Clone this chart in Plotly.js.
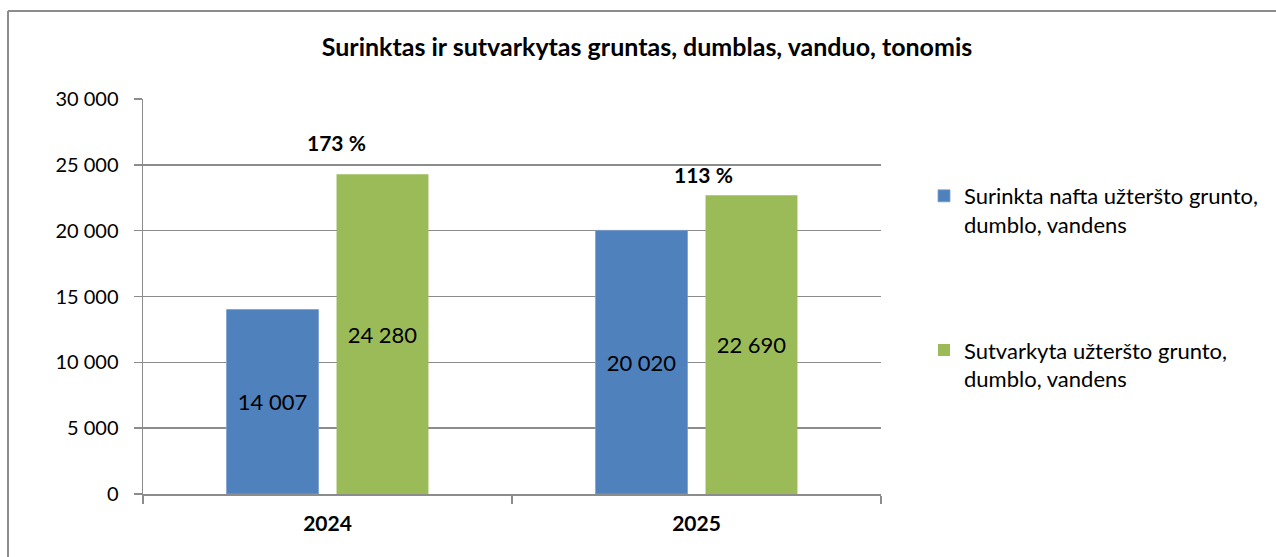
<!DOCTYPE html>
<html>
<head>
<meta charset="utf-8">
<script src="https://cdn.plot.ly/plotly-3.0.1.min.js"></script>
<style>
  html, body { margin: 0; padding: 0; background: #ffffff; }
  #chart { width: 1276px; height: 557px; }
</style>
</head>
<body>
<div id="chart"></div>
<script>
// ---- Data ----
const categories = ['2024', '2025'];
const seriesNames = [
  'Surinkta nafta užteršto grunto,<br>dumblo, vandens',
  'Sutvarkyta užteršto grunto,<br>dumblo, vandens'
];
const collected = [14007, 20020];
const treated = [24280, 22690];
const percentLabels = ['173 %', '113 %'];
const yTicks = [0, 5000, 10000, 15000, 20000, 25000, 30000];

// ---- Styles ----
const FONT = 'Lato, "Open Sans", sans-serif';
const BLUE = '#4F81BD';
const GREEN = '#9BBB59';
const GRID = '#8C8C8C';

// plot area in pixels
const L = 143, R = 881, T = 99, B = 494, W = 1276, H = 557;
const pw = R - L, ph = B - T;
const px = x => (x - L) / pw;
const py = y => (B - y) / ph;

const traces = [
  {
    type: 'bar', x: categories, y: collected, name: seriesNames[0],
    legendgroup: 'a',
    marker: { color: BLUE, line: { color: '#7A9ED0', width: 0.8 } },
    texttemplate: '%{y:,}', textposition: 'inside', insidetextanchor: 'middle',
    textfont: { family: FONT, size: 22, color: '#000000' },
    hoverinfo: 'skip'
  },
  {
    type: 'bar', x: categories, y: treated, name: seriesNames[1],
    legendgroup: 'b',
    marker: { color: GREEN },
    texttemplate: '%{y:,}', textposition: 'inside', insidetextanchor: 'middle',
    textfont: { family: FONT, size: 22, color: '#000000' },
    hoverinfo: 'skip'
  }
];

const pctShiftY = [17, 6];
const pctShiftX = [9, 7];
const annotations = categories.map((c, i) => ({
  x: i, y: treated[i], xref: 'x', yref: 'y',
  text: '<b>' + percentLabels[i] + '</b>',
  showarrow: false, xanchor: 'center', yanchor: 'bottom',
  xshift: pctShiftX[i], yshift: pctShiftY[i],
  font: { family: FONT, size: 21, color: '#000000' }
}));

const layout = {
  width: W, height: H,
  margin: { l: L, r: W - R, t: T, b: H - B, pad: 0 },
  paper_bgcolor: '#ffffff', plot_bgcolor: '#ffffff',
  separators: ', ',
  font: { family: FONT, size: 20, color: '#000000' },
  title: {
    text: '<b>Surinktas ir sutvarkytas gruntas, dumblas, vanduo, tonomis</b>',
    font: { family: FONT, size: 25, color: '#000000' },
    x: 647 / W, xref: 'container', xanchor: 'center',
    y: 1 - 47 / H, yref: 'container', yanchor: 'middle'
  },
  barmode: 'group', bargap: 0.404, bargroupgap: 0.164,
  showlegend: true,
  legend: {
    x: px(924), y: py(175), xanchor: 'left', yanchor: 'top',
    traceorder: 'grouped', tracegroupgap: 94, valign: 'top',
    font: { family: FONT, size: 22, color: '#000000' },
    bgcolor: 'rgba(0,0,0,0)', itemwidth: 30
  },
  xaxis: {
    type: 'category', range: [-0.5, 1.5], autorange: false,
    showgrid: false, zeroline: false,
    showline: true, linecolor: GRID, linewidth: 1.5,
    ticks: 'outside', tickson: 'boundaries', ticklen: 8, tickcolor: GRID, tickwidth: 1.5,
    tickangle: 0, ticklabelstandoff: 10,
    tickfont: { family: FONT, size: 21, color: '#000000', weight: 'bold' }
  },
  yaxis: {
    range: [0, 30000], autorange: false, tickvals: yTicks, tickformat: ',d',
    showgrid: true, gridcolor: GRID, gridwidth: 1.5,
    zeroline: false, showline: true, linecolor: GRID, linewidth: 1.5,
    ticks: 'outside', ticklen: 8, tickcolor: GRID, tickwidth: 1.5,
    ticklabelstandoff: 11,
    tickfont: { family: FONT, size: 20, color: '#000000' }
  },
  annotations: annotations,
  shapes: [
    { type: 'line', xref: 'paper', yref: 'paper', x0: px(8), x1: px(1280), y0: py(11), y1: py(11),
      line: { color: '#8C8C8C', width: 2 } },
    { type: 'line', xref: 'paper', yref: 'paper', x0: px(8), x1: px(8), y0: py(11), y1: py(560),
      line: { color: '#8C8C8C', width: 2 } }
  ]
};

Plotly.newPlot('chart', traces, layout, { displayModeBar: false, staticPlot: true });
</script>
</body>
</html>
